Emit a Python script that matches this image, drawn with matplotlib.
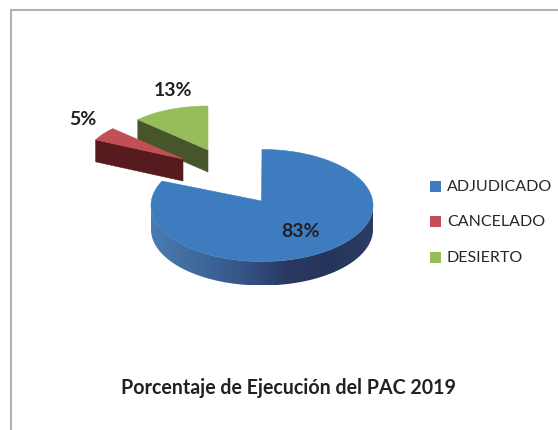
import numpy as np
import matplotlib
matplotlib.use("Agg")
import matplotlib.pyplot as plt
from matplotlib.patches import Polygon, Rectangle
from matplotlib.colors import LinearSegmentedColormap

plt.rcParams['font.family'] = ['Lato', 'DejaVu Sans']

categories = ["ADJUDICADO", "CANCELADO", "DESIERTO"]
values = [83, 5, 13]
labels = ["83%", "5%", "13%"]
title = "Porcentaje de Ejecución del PAC 2019"

top_colors = ["#3D7DBF", "#C24F55", "#96BC5B"]
side_colors = ["#2F4A78", "#571A1E", "#46562A"]

fig = plt.figure(figsize=(5.58, 4.31), dpi=100, facecolor="white")
ax = fig.add_axes([0, 0, 1, 1])
ax.set_xlim(0, 558)
ax.set_ylim(431, 0)
ax.axis("off")

# frame
ax.plot([11, 11], [431, 11], color="#b2b2b2", lw=1.5, solid_capstyle="butt")
ax.plot([10.3, 558], [11, 11], color="#b2b2b2", lw=1.5, solid_capstyle="butt")

# wedge angles, clockwise from the top
fracs = np.array(values) / np.sum(values) * 360
ends = np.cumsum(fracs)
starts = ends - fracs


def rim(cx, cy, rx, ry, a0, a1):
    t = np.radians(np.linspace(a0, a1, 240))
    return cx + rx * np.sin(t), cy - ry * np.cos(t)


blue_side = LinearSegmentedColormap.from_list(
    "blue_side", ["#4A7CB2", "#3F6A9C", "#37568A", "#2A3A64", "#26345A", "#2C3C64"])


def top_face(i, cx, cy, rx, ry, apex_x, apex_y, z):
    x, y = rim(cx, cy, rx, ry, starts[i], ends[i])
    ax.add_patch(Polygon(np.r_[[(apex_x, apex_y)], np.c_[x, y]], closed=True,
                         fc=top_colors[i], ec=top_colors[i], lw=0.4, zorder=z + 0.5))
    return x, y


def cut_face(i, x, y, apex_x, apex_y, depth, z):
    ax.add_patch(Polygon([(apex_x, apex_y), (x[0], y[0]), (x[0], y[0] + depth),
                          (apex_x, apex_y + depth)], closed=True,
                         fc=side_colors[i], ec=side_colors[i], lw=0.4, zorder=z))


# large slice: shaded wall along the front of the ellipse, then its top face
CX, CY, RX, RY, D = 262, 206.5, 111, 56, 24
xs, ys = rim(CX, CY, RX, RY, 90, 270)
wall = Polygon(np.r_[np.c_[xs, ys], np.c_[xs, ys + D][::-1]], closed=True,
               fc="none", ec="none", transform=ax.transData)
ax.add_patch(wall)
im = ax.imshow(np.linspace(0, 1, 256)[None, :], cmap=blue_side, aspect="auto",
               extent=[CX - RX, CX + RX, CY + RY + D, CY], zorder=2)
im.set_clip_path(wall)
ax.set_xlim(0, 558)
ax.set_ylim(431, 0)
top_face(0, CX, CY, RX, RY, 261.5, 202, 2)

# exploded slices
x, y = rim(208, 151, 97, 44, starts[2], ends[2])
cut_face(2, x, y, 208, 151, 22, 3)
top_face(2, 208, 151, 97, 44, 208, 151, 3)
x, y = rim(183, 160, 97, 44, starts[1], ends[1])
cut_face(1, x, y, 183, 160, 22, 4)
top_face(1, 183, 160, 97, 44, 183, 160, 4)

# percentage labels
for txt, px, py in zip(labels, [300.5, 83, 173], [232, 120, 91]):
    ax.text(px, py, txt, fontsize=14, fontweight="bold", color="#202026",
            ha="center", va="center", zorder=6)

# legend
for c, name, yc in zip(top_colors, categories, [187.5, 222, 258.5]):
    ax.add_patch(Rectangle((430, yc - 5.5), 11, 11, fc=c, ec="none"))
    ax.text(447, yc, name, fontsize=11.5, color="#26262b", ha="left", va="center")

ax.text(288.5, 388, title, fontsize=14.1, fontweight="bold", color="#202026",
        ha="center", va="center")

fig.savefig("out.png", dpi=100)
